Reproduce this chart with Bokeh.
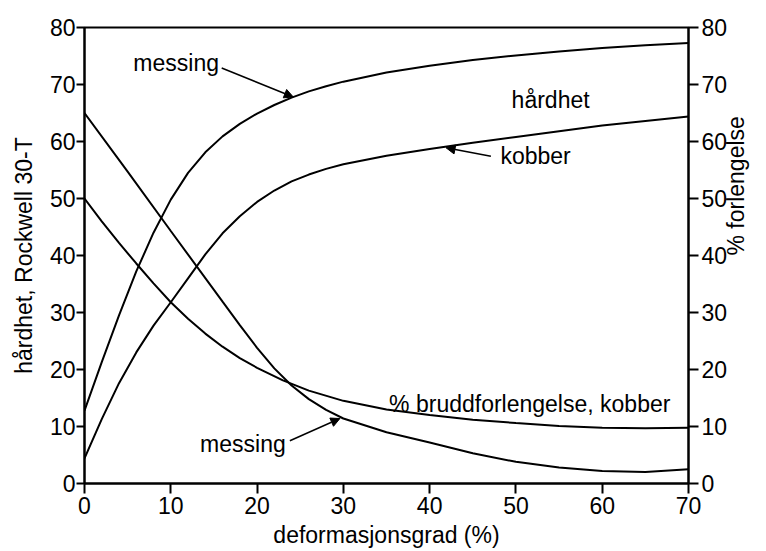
import math
from bokeh.plotting import figure
from bokeh.models import Range1d, LinearAxis, Label, Arrow, NormalHead, FixedTicker
from bokeh.embed import file_html
from bokeh.resources import INLINE

# ---- data ----
x_ticks = [0, 10, 20, 30, 40, 50, 60, 70]
y_ticks = [0, 10, 20, 30, 40, 50, 60, 70, 80]

# hardness, brass (messing) - left axis
brass_hard_x = [0, 2, 4, 6, 8, 10, 12, 14, 16, 18, 20, 22, 24, 26, 28, 30, 35, 40, 45, 50, 55, 60, 65, 70]
brass_hard_y = [12.8, 21.3, 29.5, 37.2, 44.0, 49.8, 54.5, 58.1, 60.9, 63.1, 64.9, 66.4, 67.7, 68.8,
                69.7, 70.5, 72.1, 73.3, 74.3, 75.1, 75.8, 76.4, 76.9, 77.3]

# hardness, copper (kobber) - left axis
copper_hard_x = [0, 2, 4, 6, 8, 10, 12, 14, 16, 18, 20, 22, 24, 26, 28, 30, 35, 40, 45, 50, 55, 60, 65, 70]
copper_hard_y = [4.4, 11.3, 17.6, 23.0, 27.7, 31.8, 36.0, 40.2, 43.9, 46.9, 49.4, 51.4, 53.0, 54.2,
                 55.2, 56.0, 57.5, 58.7, 59.8, 60.8, 61.8, 62.8, 63.6, 64.4]

# % elongation, brass (messing) - right axis
brass_el_x = [0, 5, 10, 16, 18, 20, 22, 24, 26, 28, 30, 35, 40, 45, 50, 55, 60, 65, 70]
brass_el_y = [65.0, 54.7, 44.3, 31.9, 27.8, 23.8, 20.2, 17.2, 14.8, 12.9, 11.4, 9.0, 7.2, 5.3,
              3.8, 2.8, 2.2, 2.0, 2.5]

# % elongation, copper (kobber) - right axis
copper_el_x = [0, 2, 4, 6, 8, 10, 12, 14, 16, 18, 20, 23, 26, 30, 35, 40, 45, 50, 55, 60, 65, 70]
copper_el_y = [50.0, 46.0, 42.2, 38.6, 35.1, 31.8, 28.9, 26.3, 24.0, 22.0, 20.3, 18.1, 16.3, 14.5,
               13.0, 12.0, 11.2, 10.6, 10.1, 9.8, 9.7, 9.8]

FONT = "Liberation Sans"
FS = "23px"

p = figure(width=766, height=550, x_range=Range1d(0, 70), y_range=Range1d(0, 80),
           output_backend="svg", toolbar_location=None,
           min_border_left=84, min_border_right=78, min_border_top=27, min_border_bottom=67,
           x_axis_label="deformasjonsgrad (%)", y_axis_label="hårdhet, Rockwell 30-T")
p.extra_y_ranges = {"elong": Range1d(0, 80)}
p.grid.visible = False
p.outline_line_color = "black"
p.outline_line_width = 2
p.background_fill_color = "white"
p.border_fill_color = "white"

right = LinearAxis(y_range_name="elong", axis_label="% forlengelse")
p.add_layout(right, "right")


def style(ax, ticks):
    ax.ticker = FixedTicker(ticks=ticks)
    ax.minor_tick_line_color = None
    ax.major_tick_in = 0
    ax.major_tick_out = 9
    ax.major_tick_line_width = 2
    ax.major_tick_line_color = "black"
    ax.axis_line_width = 2
    ax.axis_line_color = "black"
    ax.major_label_text_font = FONT
    ax.major_label_text_font_size = FS
    ax.major_label_text_color = "black"
    ax.axis_label_text_font = FONT
    ax.axis_label_text_font_size = FS
    ax.axis_label_text_font_style = "normal"
    ax.axis_label_text_color = "black"


style(p.xaxis[0], x_ticks)
style(p.yaxis[0], y_ticks)
style(right, y_ticks)

p.xaxis[0].major_tick_out = 10
p.xaxis[0].major_label_standoff = 3
p.xaxis[0].axis_label_standoff = 5
p.yaxis[0].major_tick_out = 8
p.yaxis[0].major_label_standoff = 1
p.yaxis[0].axis_label_standoff = 10
right.major_tick_out = 10
right.major_label_standoff = 3
right.axis_label_standoff = 6
if "axis_label_orientation" in right.properties():
    right.axis_label_orientation = math.pi / 2

LW = 2
p.line(brass_hard_x, brass_hard_y, line_color="black", line_width=LW)
p.line(copper_hard_x, copper_hard_y, line_color="black", line_width=LW)
p.line(brass_el_x, brass_el_y, line_color="black", line_width=LW, y_range_name="elong")
p.line(copper_el_x, copper_el_y, line_color="black", line_width=LW, y_range_name="elong")


def label(x, y, t, **kw):
    p.add_layout(Label(x=x, y=y, text=t, text_font=FONT, text_font_size=FS,
                       text_color="black", text_align="left", text_baseline="alphabetic", **kw))


def arrow(x0, y0, x1, y1, yr="default"):
    p.add_layout(Arrow(end=NormalHead(size=9, fill_color="black", line_color="black", line_width=1),
                       x_start=x0, y_start=y0, x_end=x1, y_end=y1,
                       line_color="black", line_width=1.5, y_range_name=yr))


label(5.66, 73.8, "messing")
arrow(15.9, 72.9, 24.2, 67.8)
label(49.5, 67.3, "hårdhet")
label(48.2, 57.4, "kobber")
arrow(47.1, 57.4, 41.9, 58.9)
label(35.3, 14.0, "% bruddforlengelse, kobber", y_range_name="elong")
label(13.4, 7.0, "messing", y_range_name="elong")
arrow(23.8, 7.5, 29.6, 11.4, "elong")

open("out.html", "w").write(file_html(p, INLINE))
